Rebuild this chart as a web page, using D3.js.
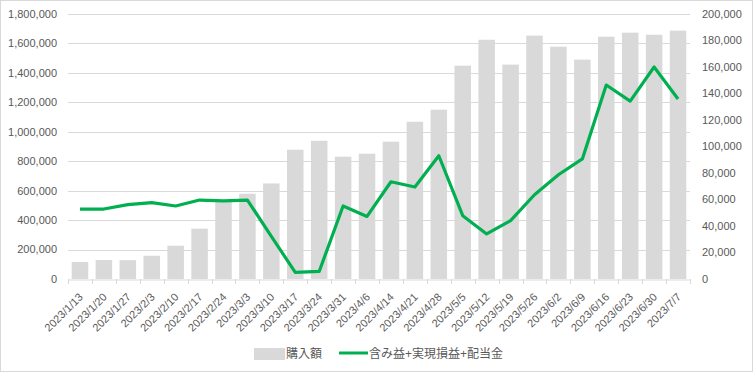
<!DOCTYPE html>
<html>
<head>
<meta charset="utf-8">
<script src="https://cdn.jsdelivr.net/npm/d3@7"></script>
<style>
  body { margin: 0; background: #fff; }
  svg { display: block; font-family: "Liberation Sans", "Noto Sans CJK JP", sans-serif; }
</style>
</head>
<body>
<svg width="753" height="373"></svg>
<script>
const dates = ["2023/1/13","2023/1/20","2023/1/27","2023/2/3","2023/2/10","2023/2/17","2023/2/24",
  "2023/3/3","2023/3/10","2023/3/17","2023/3/24","2023/3/31","2023/4/6","2023/4/14","2023/4/21",
  "2023/4/28","2023/5/5","2023/5/12","2023/5/19","2023/5/26","2023/6/2","2023/6/9","2023/6/16",
  "2023/6/23","2023/6/30","2023/7/7"];

// 購入額 (left axis)
const purchase = [115000,129000,128000,158000,226000,342000,530000,579000,649000,878000,939000,
  831000,851000,933000,1068000,1150000,1449000,1625000,1456000,1653000,1578000,1490000,1646000,
  1673000,1659000,1687000];

// 含み益+実現損益+配当金 (right axis)
const profit = [52800,52800,56100,57600,55100,59600,58900,59600,32200,5000,5700,55100,47200,
  73400,69400,93000,47800,34000,44000,63600,78700,90600,146400,134300,160000,135800];

const leftTicks = d3.range(0, 1800001, 200000);
const rightTicks = d3.range(0, 200001, 20000);

const barName = "購入額";
const lineName = "含み益+実現損益+配当金";

const svg = d3.select("svg");
const textColor = "#595959";
const gridColor = "#d9d9d9";

// border
svg.append("rect").attr("x",0.5).attr("y",0.5).attr("width",752).attr("height",371)
   .attr("fill","none").attr("stroke","#d9d9d9");

const x = d3.scaleBand().domain(dates).range([68, 690]).paddingInner(0.31).paddingOuter(0.155);
const yL = d3.scaleLinear().domain([0, 1800000]).range([279, 14]);
const yR = d3.scaleLinear().domain([0, 200000]).range([279, 14]);
const fmt = d3.format(",");

// grid
svg.append("g").selectAll("line").data(leftTicks.slice(1)).join("line")
   .attr("x1",68).attr("x2",690)
   .attr("y1",d=>Math.round(yL(d))+0.5).attr("y2",d=>Math.round(yL(d))+0.5)
   .attr("stroke",gridColor);

// left axis labels
svg.append("g").selectAll("text").data(leftTicks).join("text")
   .attr("x",57).attr("y",d=>yL(d)).attr("dy","0.35em")
   .attr("text-anchor","end").attr("font-size",11).attr("fill",textColor)
   .text(d=>fmt(d));

// right axis labels
svg.append("g").selectAll("text").data(rightTicks).join("text")
   .attr("x",702).attr("y",d=>yR(d)).attr("dy","0.35em")
   .attr("text-anchor","start").attr("font-size",11).attr("fill",textColor)
   .text(d=>fmt(d));

// bars
svg.append("g").selectAll("rect").data(dates).join("rect")
   .attr("x",(d)=>x(d)).attr("width",x.bandwidth())
   .attr("y",(d,i)=>yL(purchase[i])).attr("height",(d,i)=>279-yL(purchase[i]))
   .attr("fill","#d9d9d9");

// x axis
const xAxis = svg.append("g").attr("transform","translate(0,279.5)")
   .call(d3.axisBottom(x).tickSize(0).tickFormat(""));
xAxis.select(".domain").attr("stroke",gridColor);
const step = x.step();
svg.append("g").selectAll("line").data(d3.range(dates.length+1)).join("line")
   .attr("x1",i=>Math.round(68+i*step)+0.5).attr("x2",i=>Math.round(68+i*step)+0.5)
   .attr("y1",279).attr("y2",284).attr("stroke",gridColor);

svg.append("g").selectAll("text").data(dates).join("text")
   .attr("transform",d=>`translate(${x(d)+x.bandwidth()/2+1},295) rotate(-45)`)
   .attr("text-anchor","end").attr("dy","0.35em")
   .attr("font-size",11).attr("fill",textColor)
   .text(d=>d);

// line
const line = d3.line()
   .x((d,i)=>x(dates[i])+x.bandwidth()/2)
   .y(d=>yR(d));
svg.append("path").datum(profit).attr("d",line)
   .attr("fill","none").attr("stroke","#00b050").attr("stroke-width",3.2)
   .attr("stroke-linejoin","round");

// legend
const lg = svg.append("g").attr("font-size",12).attr("fill",textColor);
lg.append("rect").attr("x",254).attr("y",348).attr("width",31).attr("height",12).attr("fill","#d9d9d9");
lg.append("text").attr("x",286).attr("y",354).attr("dy","0.35em").text(barName);
lg.append("line").attr("x1",339).attr("x2",368).attr("y1",353).attr("y2",353)
   .attr("stroke","#00b050").attr("stroke-width",3);
lg.append("text").attr("x",369).attr("y",354).attr("dy","0.35em").text(lineName);
</script>
</body>
</html>
